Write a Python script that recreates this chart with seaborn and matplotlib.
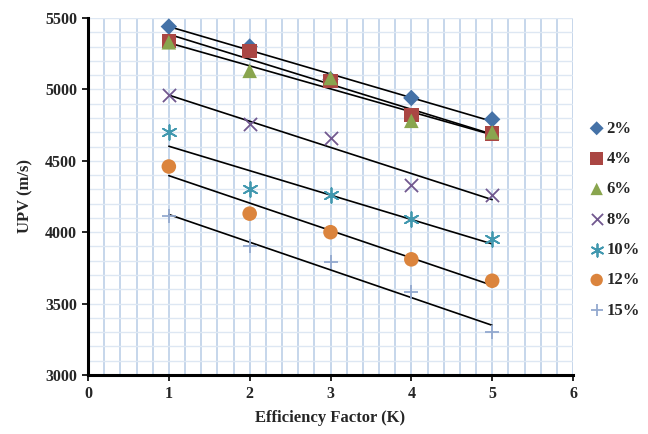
import matplotlib
matplotlib.use("Agg")
import matplotlib.pyplot as plt
from matplotlib.ticker import MultipleLocator
import seaborn as sns
import pandas as pd

k_values = [1, 2, 3, 4, 5]
series_labels = ["2%", "4%", "6%", "8%", "10%", "12%", "15%"]
upv_2 = [5440, 5300, 5070, 4940, 4790]
upv_4 = [5340, 5270, 5060, 4820, 4690]
upv_6 = [5330, 5130, 5080, 4780, 4700]
upv_8 = [4960, 4760, 4660, 4330, 4260]
upv_10 = [4700, 4300, 4260, 4090, 3950]
upv_12 = [4460, 4130, 4000, 3810, 3660]
upv_15 = [4110, 3900, 3790, 3580, 3300]
all_series = [upv_2, upv_4, upv_6, upv_8, upv_10, upv_12, upv_15]

colors = ["#4572A7", "#AA4643", "#89A54E", "#71588F", "#4198AF", "#DB843D", "#93A9CF"]
markers = ["D", "s", "^", "x", (6, 2, 0), "o", "+"]
sizes = [70, 110, 110, 90, 110, 110, 90]

rows = []
for lab, vals in zip(series_labels, all_series):
    for k, v in zip(k_values, vals):
        rows.append({"K": k, "UPV": v, "series": lab})
df = pd.DataFrame(rows)

sns.set_style("white")
plt.rcParams["font.family"] = ["Liberation Serif", "DejaVu Serif"]
plt.rcParams["font.weight"] = "bold"

fig = plt.figure(figsize=(6.48, 4.34), dpi=100)
ax = fig.add_axes([88 / 648, 1 - 375 / 434, (573 - 88) / 648, (375 - 18) / 434])

ax.set_xlim(0, 6)
ax.set_ylim(3000, 5500)
ax.xaxis.set_major_locator(MultipleLocator(1))
ax.xaxis.set_minor_locator(MultipleLocator(0.2))
ax.yaxis.set_major_locator(MultipleLocator(500))
ax.yaxis.set_minor_locator(MultipleLocator(100))
ax.grid(which="both", axis="x", color="#BCD0E8", linewidth=1.2, zorder=0)
ax.grid(which="both", axis="y", color="#DDE7F3", linewidth=1.0, zorder=0)
ax.set_axisbelow(True)

for lab, col, mk, sz in zip(series_labels, colors, markers, sizes):
    sub = df[df["series"] == lab]
    sns.regplot(data=sub, x="K", y="UPV", ax=ax, scatter=False, ci=None,
                truncate=True, line_kws={"color": "black", "linewidth": 1.2, "zorder": 3})
    lw = 1.3 if mk in ("x", "+") or isinstance(mk, tuple) else 0
    sns.scatterplot(data=sub, x="K", y="UPV", ax=ax, marker=mk, s=sz, color=col,
                    edgecolor=col if lw else "none", linewidth=lw, label=lab, zorder=4)

for s in ["top", "right"]:
    ax.spines[s].set_visible(False)
for s in ["left", "bottom"]:
    ax.spines[s].set_color("black")
    ax.spines[s].set_linewidth(2.2)
ax.tick_params(which="major", direction="out", length=4, width=1.2, color="black",
               labelsize=11.5, left=True, bottom=True, pad=4)
ax.tick_params(which="minor", length=0)
for t in ax.get_xticklabels() + ax.get_yticklabels():
    t.set_fontweight("bold")

ax.set_xlabel("Efficiency Factor (K)", fontsize=12, fontweight="bold", labelpad=6)
ax.set_ylabel("UPV (m/s)", fontsize=12, fontweight="bold", labelpad=8)

leg = ax.legend(loc="upper left", bbox_to_anchor=(580 / 648, 1 - 114 / 434),
                bbox_transform=fig.transFigure, frameon=False,
                prop={"weight": "bold", "size": 12}, handletextpad=0.0,
                labelspacing=0.86, handlelength=1.2, borderaxespad=0.0,
                markerscale=0.85)

fig.savefig("out.png", dpi=100)
